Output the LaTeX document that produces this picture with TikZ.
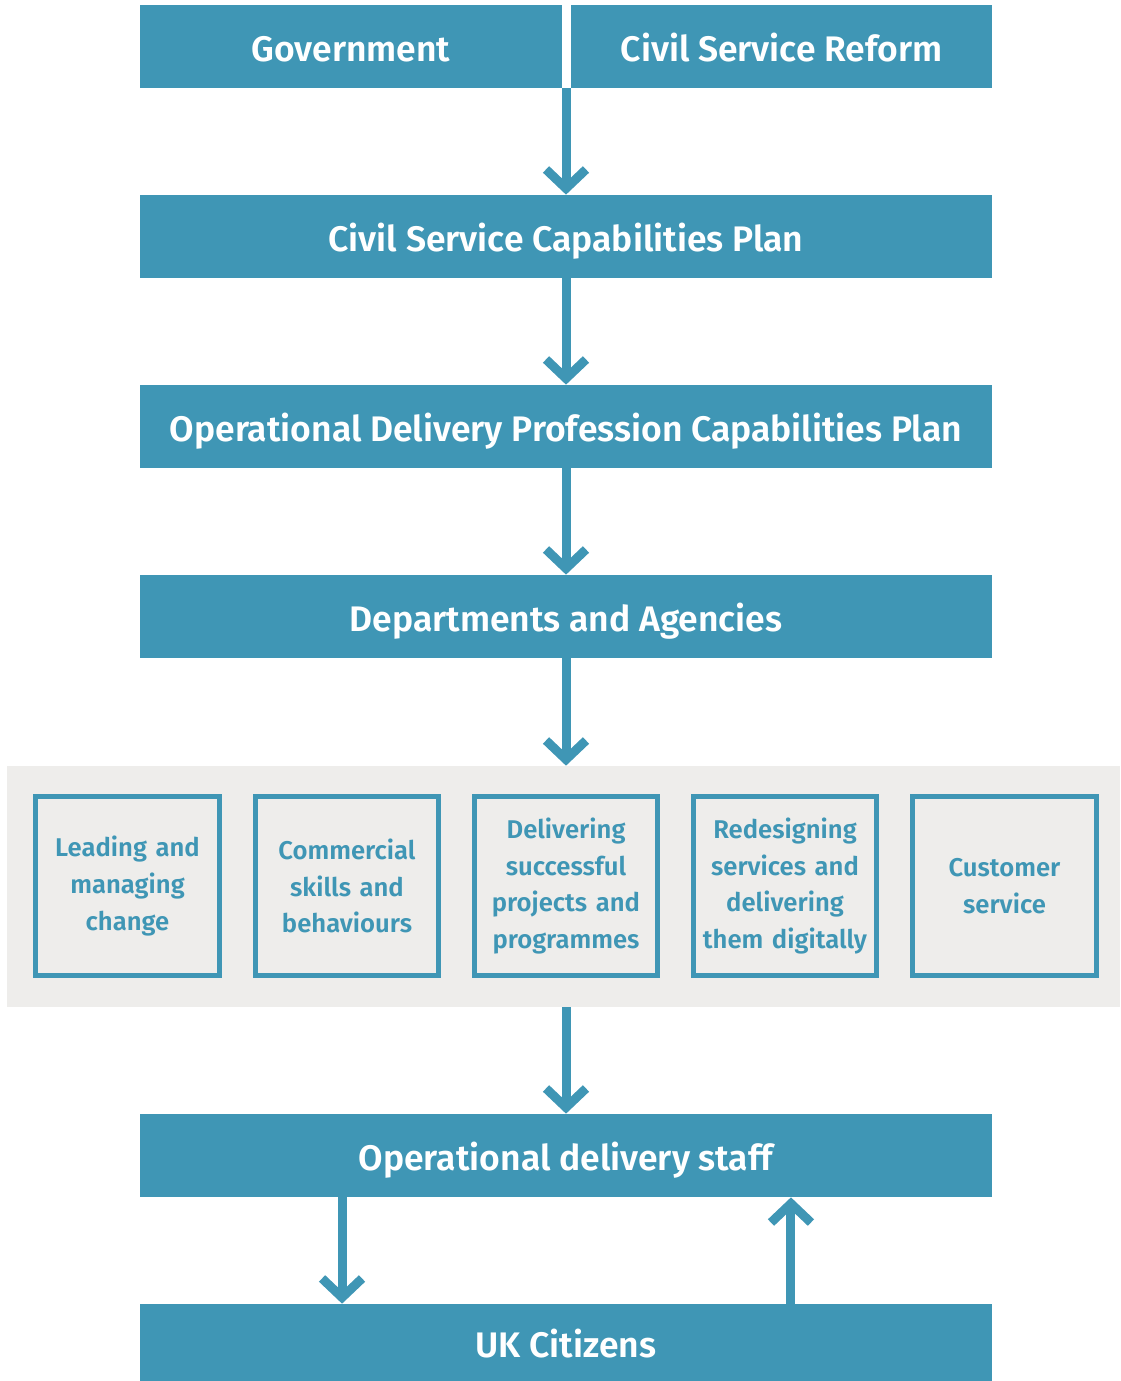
\documentclass[tikz,border=0pt]{standalone}
\usepackage{fontspec}
\setmainfont{Fira Sans}[BoldFont={Fira Sans SemiBold}]
\usetikzlibrary{arrows.meta}
\definecolor{govteal}{HTML}{3F96B5}
\definecolor{bandgrey}{HTML}{EEEDEB}
\begin{document}
\begin{tikzpicture}[x=0.02cm,y=-0.02cm,
    bar/.style={fill=govteal,text=white,minimum width=17.04cm,minimum height=1.66cm,inner sep=0pt,
      text height=17pt,text depth=0pt,font=\bfseries\fontsize{20.2}{24}\selectfont},
    skill/.style={draw=govteal,line width=0.1cm,text=govteal,minimum width=3.68cm,minimum height=3.58cm,
      text width=3.6cm,align=center,inner sep=0pt,font=\bfseries\fontsize{14.6}{21}\selectfont},
    flow/.style={draw=govteal,line width=0.18cm,-{Straight Barb[length=0.38cm,width=0.8cm]}}]
    \useasboundingbox (0,0) rectangle (1120,1381);

    % top row
    \node[bar,minimum width=8.44cm] (gov) at (351,46.5) {Government};
    \node[bar,minimum width=8.42cm] (csr) at (781.5,46.5) {Civil Service Reform};

    \node[bar] (csp) at (566,236.5) {Civil Service Capabilities Plan};
    \node[bar] (odp) at (566,426.5) {Operational Delivery Profession Capabilities Plan};
    \node[bar] (dept) at (566,616.5) {Departments and Agencies};

    % grey band with the five skills
    \node[fill=bandgrey,minimum width=22.26cm,minimum height=4.82cm,inner sep=0pt] (band) at (563.5,886.5) {};
    \node[skill] (lead) at (127.5,886) {Leading and\\managing\\change};
    \node[skill] (comm) at (347,886) {Commercial\\skills and\\behaviours};
    \node[skill] (proj) at (566,886) {Delivering\\successful\\projects and\\programmes};
    \node[skill] (digi) at (785,886) {Redesigning\\services and\\delivering\\them digitally};
    \node[skill] (cust) at (1004.5,886) {Customer\\service};

    \node[bar] (staff) at (566,1155.5) {Operational delivery staff};
    \node[bar,minimum height=1.54cm] (uk) at (566,1342.5) {UK Citizens};

    % arrows
    \draw[flow] (csp.north |- gov.south) -- (csp.north);
    \draw[flow] (csp.south) -- (odp.north);
    \draw[flow] (odp.south) -- (dept.north);
    \draw[flow] (dept.south) -- (dept.south |- band.north);
    \draw[flow] (dept.south |- band.south) -- (staff.north);
    \draw[flow] ([xshift=-4.48cm]staff.south) -- ([xshift=-4.48cm]uk.north);
    \draw[flow] ([xshift=4.5cm]uk.north) -- ([xshift=4.5cm]staff.south);
\end{tikzpicture}
\end{document}
